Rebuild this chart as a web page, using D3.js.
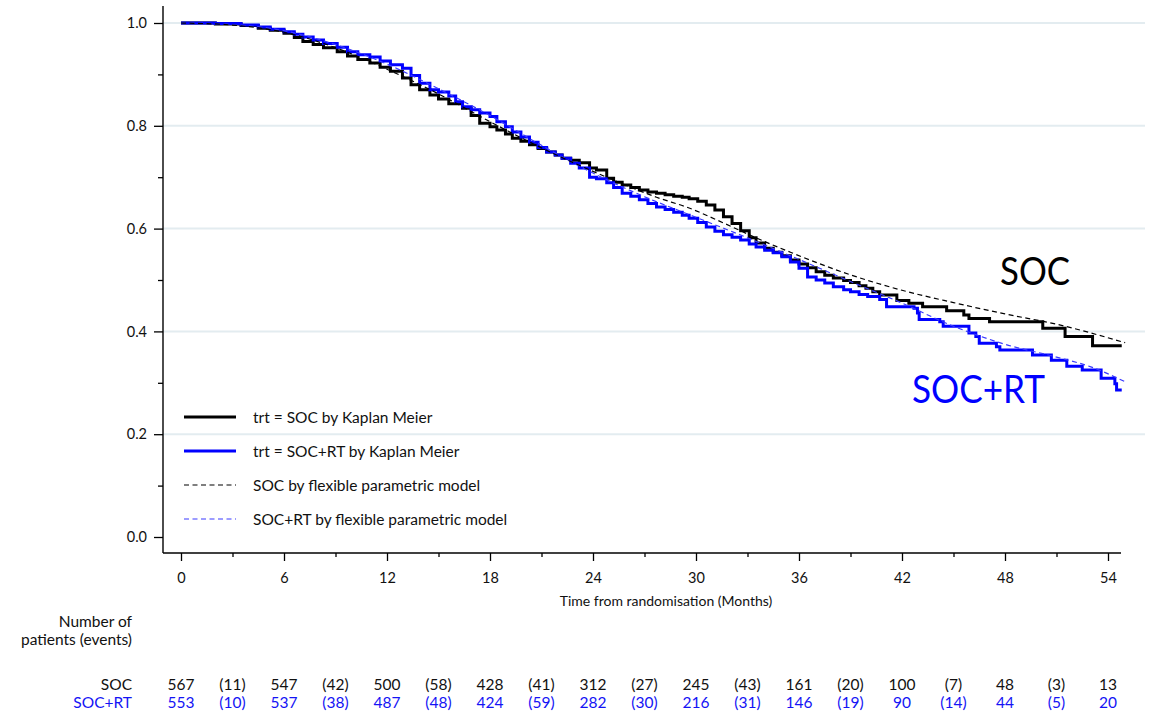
<!DOCTYPE html>
<html>
<head>
<meta charset="utf-8">
<script src="https://cdn.jsdelivr.net/npm/d3@7"></script>
<style>
  html, body { margin: 0; padding: 0; background: #fff; }
  svg { display: block; font-family: Lato, "Open Sans", sans-serif; }
</style>
</head>
<body>
<svg id="chart" width="1157" height="711"></svg>
<script>
// Kaplan-Meier step estimates: [months, survival]
const socKM = [
  [0,1.000],[2,0.998],[3.5,0.995],[4.5,0.990],[5.2,0.986],[6,0.980],[6.6,0.972],[7.1,0.964],
  [7.7,0.958],[8.3,0.952],[9.1,0.944],[9.7,0.936],[10.3,0.929],[11,0.922],[11.6,0.914],
  [12.2,0.906],[12.9,0.893],[13.4,0.880],[13.9,0.870],[14.5,0.860],[15.0,0.852],[15.6,0.843],
  [16.4,0.834],[16.9,0.820],[17.4,0.805],[18.0,0.798],[18.4,0.792],[18.9,0.784],[19.3,0.776],
  [19.8,0.770],[20.3,0.763],[20.8,0.756],[21.3,0.749],[21.8,0.743],[22.2,0.737],[22.7,0.733],
  [23.2,0.728],[23.8,0.718],[24.2,0.714],[24.8,0.698],[25.2,0.690],[25.7,0.685],[26.2,0.680],
  [26.7,0.675],[27.2,0.671],[27.7,0.669],[28.2,0.666],[28.7,0.663],[29.2,0.661],[29.6,0.658],
  [30.1,0.653],[30.6,0.646],[31.1,0.636],[31.6,0.623],[32.1,0.610],[32.6,0.596],[33.1,0.582],
  [33.5,0.572],[34.0,0.562],[34.5,0.554],[35.0,0.547],[35.5,0.539],[36.0,0.531],[36.5,0.524],
  [37.0,0.516],[37.5,0.509],[38.0,0.504],[38.6,0.499],[39.0,0.495],[39.5,0.489],[39.9,0.484],
  [40.3,0.477],[40.7,0.471],[41.7,0.460],[42.4,0.455],[43.2,0.448],[44.6,0.440],[45.6,0.432],
  [45.9,0.425],[47.1,0.419],[50.2,0.406],[51.5,0.390],[53.1,0.372],[54.8,0.372]
];
const rtKM = [
  [0,1.000],[2,0.999],[3.5,0.996],[4.5,0.992],[5.2,0.988],[6,0.983],[6.6,0.978],[7.1,0.973],
  [7.7,0.967],[8.3,0.960],[9.1,0.953],[9.7,0.944],[10.3,0.938],[11,0.934],[11.6,0.926],
  [12.2,0.919],[12.9,0.912],[13.4,0.898],[13.9,0.883],[14.5,0.870],[15.0,0.866],[15.6,0.858],
  [16.0,0.847],[16.4,0.837],[16.9,0.831],[17.4,0.825],[18.0,0.818],[18.4,0.808],[18.9,0.798],
  [19.3,0.788],[19.8,0.778],[20.3,0.768],[20.8,0.758],[21.3,0.749],[21.8,0.743],[22.2,0.737],
  [22.7,0.727],[23.2,0.718],[23.8,0.700],[24.2,0.697],[24.8,0.689],[25.2,0.680],[25.7,0.669],
  [26.2,0.663],[26.7,0.656],[27.2,0.649],[27.7,0.642],[28.2,0.637],[28.7,0.632],[29.2,0.626],
  [29.6,0.620],[30.1,0.612],[30.6,0.603],[31.1,0.595],[31.6,0.588],[32.1,0.583],[32.6,0.578],
  [33.1,0.570],[33.5,0.564],[34.0,0.558],[34.5,0.553],[35.0,0.545],[35.5,0.535],[36.0,0.523],
  [36.5,0.506],[37.0,0.500],[37.5,0.494],[38.0,0.487],[38.6,0.481],[39.0,0.477],[39.5,0.472],
  [40.0,0.468],[40.7,0.462],[41.1,0.448],[42.7,0.445],[42.9,0.436],[43.0,0.423],[44.2,0.419],
  [44.4,0.410],[45.9,0.397],[46.3,0.390],[46.5,0.377],[47.5,0.370],[47.7,0.364],[49.6,0.354],
  [50.7,0.344],[51.6,0.332],[52.5,0.325],[53.6,0.309],[54.4,0.298],[54.5,0.286],[54.8,0.286]
];
// Flexible parametric model predictions: [months, survival]
const socFPM = [
  [0,1.000],[3,0.996],[6,0.982],[9,0.952],[12,0.910],[15,0.862],[18,0.808],[21,0.757],
  [24.8,0.700],[27.7,0.661],[29.6,0.640],[31.6,0.611],[33.5,0.582],[35.5,0.554],[39,0.510],
  [42,0.480],[45,0.456],[48,0.434],[51,0.414],[55,0.378]
];
const rtFPM = [
  [0,1.000],[3,0.997],[6,0.985],[9,0.958],[12,0.920],[15,0.872],[18,0.820],[21,0.762],
  [24,0.708],[27,0.662],[30,0.622],[33,0.582],[36,0.540],[39,0.497],[42,0.455],[45,0.410],
  [48,0.375],[51,0.350],[53,0.331],[55,0.302]
];

// Risk table
const tableMonths = [0, 6, 12, 18, 24, 30, 36, 42, 48, 54];
const socAtRisk = [567, 547, 500, 428, 312, 245, 161, 100, 48, 13];
const socEvents = [11, 42, 58, 41, 27, 43, 20, 7, 3];
const rtAtRisk  = [553, 537, 487, 424, 282, 216, 146, 90, 44, 20];
const rtEvents  = [10, 38, 48, 59, 30, 31, 19, 14, 5];

const yTicks = [0, 0.2, 0.4, 0.6, 0.8, 1.0];
const xTicks = [0, 6, 12, 18, 24, 30, 36, 42, 48, 54];

const BLUE = "#0000ff";
const BLUE_TEXT = "#1414f5";
const BLUE_DASH = "#3a3aff";

const svg = d3.select("#chart");
svg.append("rect").attr("width", 1157).attr("height", 711).attr("fill", "#fff");

const x = d3.scaleLinear().domain([0, 54]).range([181, 1108]);
const y = d3.scaleLinear().domain([0, 1]).range([537, 23]);

// Horizontal grid lines
svg.append("g").selectAll("line")
  .data(yTicks.filter(d => d > 0))
  .join("line")
  .attr("x1", 163).attr("x2", 1145)
  .attr("y1", d => y(d)).attr("y2", d => y(d))
  .attr("stroke", "#e3ecf0").attr("stroke-width", 2);

// Y axis
const yAxisG = svg.append("g").attr("transform", "translate(163,0)");
yAxisG.call(d3.axisLeft(y).tickValues(yTicks).tickFormat(d3.format(".1f")).tickSize(9).tickPadding(7));
yAxisG.append("g").call(d3.axisLeft(y).tickValues([0.1, 0.3, 0.5, 0.7, 0.9]).tickFormat("").tickSize(5));
yAxisG.selectAll(".domain").remove();
yAxisG.append("line").attr("x1", 0).attr("x2", 0).attr("y1", 6).attr("y2", 553)
  .attr("stroke", "#000").attr("stroke-width", 1.4);

// X axis
const xAxisG = svg.append("g").attr("transform", "translate(0,553)");
xAxisG.call(d3.axisBottom(x).tickValues(xTicks).tickSize(8).tickPadding(12));
xAxisG.append("g").call(d3.axisBottom(x).tickValues([3, 9, 15, 21, 27, 33, 39, 45, 51]).tickFormat("").tickSize(4));
xAxisG.selectAll(".domain").remove();
xAxisG.append("line").attr("x1", 163).attr("x2", 1121).attr("y1", 0).attr("y2", 0)
  .attr("stroke", "#000").attr("stroke-width", 1.4);

svg.selectAll(".tick line").attr("stroke", "#000").attr("stroke-width", 1.3);
svg.selectAll(".tick text").attr("font-size", 14.5).attr("fill", "#111")
  .attr("font-family", "Lato, 'Open Sans', sans-serif");

svg.append("text")
  .attr("x", 666).attr("y", 606)
  .attr("text-anchor", "middle").attr("font-size", 14).attr("fill", "#111")
  .text("Time from randomisation (Months)");

// Curves
const stepLine = d3.line().x(d => x(d[0])).y(d => y(d[1])).curve(d3.curveStepAfter);
const smoothLine = d3.line().x(d => x(d[0])).y(d => y(d[1])).curve(d3.curveMonotoneX);

svg.append("path").datum(socKM).attr("d", stepLine)
  .attr("fill", "none").attr("stroke", "#000").attr("stroke-width", 3);
svg.append("path").datum(rtKM).attr("d", stepLine)
  .attr("fill", "none").attr("stroke", BLUE).attr("stroke-width", 3);
svg.append("path").datum(rtFPM).attr("d", smoothLine)
  .attr("fill", "none").attr("stroke", BLUE_DASH).attr("stroke-width", 1.2)
  .attr("stroke-dasharray", "5,3.5");
svg.append("path").datum(socFPM).attr("d", smoothLine)
  .attr("fill", "none").attr("stroke", "#000").attr("stroke-width", 1.2)
  .attr("stroke-dasharray", "5,3.5");

// Direct labels
svg.append("text").attr("x", 1000).attr("y", 285)
  .attr("font-family", "Lato, sans-serif").attr("font-size", 39).attr("fill", "#000")
  .attr("textLength", 70).attr("lengthAdjust", "spacingAndGlyphs")
  .text("SOC");
svg.append("text").attr("x", 912).attr("y", 403)
  .attr("font-family", "Lato, sans-serif").attr("font-size", 39).attr("fill", BLUE)
  .attr("textLength", 133).attr("lengthAdjust", "spacingAndGlyphs")
  .text("SOC+RT");

// Legend
const legendItems = [
  { label: "trt = SOC by Kaplan Meier", color: "#000", width: 3, dash: null },
  { label: "trt = SOC+RT by Kaplan Meier", color: BLUE, width: 3, dash: null },
  { label: "SOC by flexible parametric model", color: "#000", width: 1.2, dash: "5,3.5" },
  { label: "SOC+RT by flexible parametric model", color: BLUE_DASH, width: 1.2, dash: "5,3.5" }
];
const legend = svg.append("g");
legendItems.forEach((it, i) => {
  const ly = 417 + i * 34;
  legend.append("line").attr("x1", 184).attr("x2", 236).attr("y1", ly).attr("y2", ly)
    .attr("stroke", it.color).attr("stroke-width", it.width)
    .attr("stroke-dasharray", it.dash);
  legend.append("text").attr("x", 253).attr("y", ly + 5.5)
    .attr("font-size", 15.5).attr("fill", "#111").text(it.label);
});

// Number at risk table
const tbl = svg.append("g").attr("font-size", 15.5);
tbl.append("text").attr("x", 132).attr("y", 627).attr("text-anchor", "end").attr("fill", "#111").text("Number of");
tbl.append("text").attr("x", 132).attr("y", 645).attr("text-anchor", "end").attr("fill", "#111").text("patients (events)");
tbl.append("text").attr("x", 132).attr("y", 690).attr("text-anchor", "end").attr("fill", "#111").text("SOC");
tbl.append("text").attr("x", 132).attr("y", 708).attr("text-anchor", "end").attr("fill", BLUE_TEXT).text("SOC+RT");

const rows = [
  { atRisk: socAtRisk, events: socEvents, yy: 690, color: "#111" },
  { atRisk: rtAtRisk, events: rtEvents, yy: 708, color: BLUE_TEXT }
];
rows.forEach(r => {
  tbl.append("g").selectAll("text").data(r.atRisk).join("text")
    .attr("x", (d, i) => x(tableMonths[i])).attr("y", r.yy)
    .attr("text-anchor", "middle").attr("fill", r.color).text(d => d);
  tbl.append("g").selectAll("text").data(r.events).join("text")
    .attr("x", (d, i) => x(tableMonths[i] + 3)).attr("y", r.yy)
    .attr("text-anchor", "middle").attr("fill", r.color).text(d => `(${d})`);
});
</script>
</body>
</html>
